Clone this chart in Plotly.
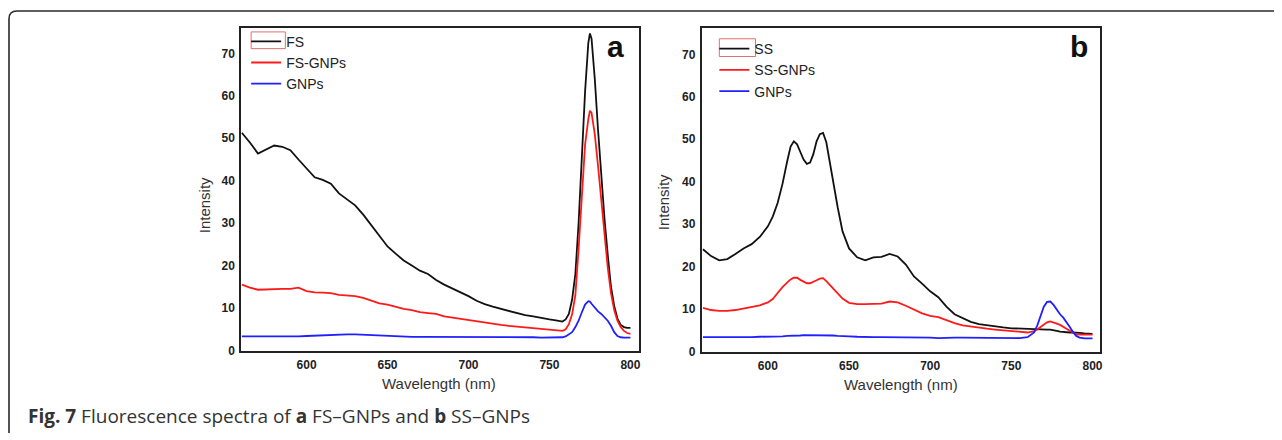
import plotly.graph_objects as go

# ---------------- data ----------------
wl_a = [560, 565, 570, 575, 580, 585, 590, 595, 600, 605, 610, 615, 620, 625, 630, 635,
        640, 645, 650, 655, 660, 665, 670, 675, 680, 685, 690, 695, 700, 705, 710, 715,
        720, 725, 730, 735, 740, 745, 750, 754, 758, 760, 762, 764, 766, 768, 770, 772,
        774, 775, 776, 778, 780, 782, 784, 786, 788, 790, 792, 794, 796, 798, 800]
fs = [51.3, 49.0, 46.4, 47.4, 48.3, 48.0, 47.2, 45.0, 43.0, 40.8, 40.2, 39.3, 37.0, 35.5, 34.2, 32.0,
      29.5, 27.0, 24.5, 22.8, 21.2, 20.0, 18.8, 18.0, 16.6, 15.5, 14.6, 13.7, 12.8, 11.7, 10.9, 10.3,
      9.8, 9.3, 8.7, 8.3, 8.0, 7.6, 7.3, 7.1, 6.8, 7.3, 8.6, 12.0, 18.0, 30.0, 45.0, 61.0,
      72.5, 74.7, 73.5, 64.0, 52.0, 41.0, 31.0, 22.5, 15.0, 10.5, 7.5, 6.0, 5.5, 5.3, 5.3]
fs_gnps = [15.5, 14.8, 14.3, 14.4, 14.5, 14.5, 14.5, 14.8, 14.0, 13.7, 13.6, 13.5, 13.1, 12.9, 12.8, 12.4,
           11.8, 11.1, 10.8, 10.3, 9.8, 9.5, 9.0, 8.8, 8.6, 8.0, 7.7, 7.4, 7.1, 6.8, 6.6, 6.3,
           6.0, 5.8, 5.6, 5.4, 5.2, 5.0, 4.8, 4.6, 4.6, 5.0, 6.2, 8.5, 13.0, 24.0, 37.0, 48.5,
           54.5, 56.5, 56.0, 51.0, 43.5, 35.5, 28.0, 19.5, 13.5, 9.5, 7.0, 5.5, 4.6, 4.1, 3.9]
gnps_a = [3.3, 3.3, 3.2, 3.3, 3.3, 3.3, 3.3, 3.3, 3.4, 3.5, 3.5, 3.6, 3.7, 3.8, 3.8, 3.7,
          3.6, 3.5, 3.4, 3.3, 3.2, 3.2, 3.2, 3.2, 3.2, 3.2, 3.2, 3.2, 3.2, 3.1, 3.2, 3.2,
          3.2, 3.2, 3.1, 3.1, 3.1, 3.0, 3.0, 3.0, 3.1, 3.3, 3.7, 4.3, 5.5, 7.0, 9.0, 10.8,
          11.6, 11.5, 11.0, 10.0, 9.2, 8.6, 7.8, 7.0, 5.8, 4.3, 3.4, 3.1, 3.0, 3.0, 3.0]

wl_b = [560, 565, 570, 575, 580, 585, 590, 595, 600, 603, 606, 609, 612, 614, 616, 618,
        620, 622, 624, 626, 628, 630, 632, 634, 636, 638, 640, 643, 646, 650, 655, 660,
        665, 670, 675, 680, 685, 690, 695, 700, 705, 710, 715, 720, 725, 730, 735, 740,
        745, 750, 755, 760, 764, 766, 768, 770, 772, 774, 776, 778, 780, 782, 784, 786,
        788, 790, 792, 795, 800]
ss = [24.1, 22.5, 21.5, 21.8, 23.0, 24.3, 25.3, 27.0, 29.5, 31.8, 35.0, 39.5, 45.0, 48.3, 49.5, 48.8,
      47.0, 45.2, 44.2, 44.5, 46.5, 49.5, 51.2, 51.5, 49.3, 45.0, 40.0, 34.0, 28.3, 24.3, 22.2, 21.5,
      22.2, 22.3, 23.0, 22.4, 20.5, 17.7, 16.0, 14.2, 12.8, 10.6, 8.8, 7.8, 7.0, 6.5, 6.2, 5.9,
      5.7, 5.5, 5.4, 5.3, 5.2, 5.2, 5.2, 5.2, 5.2, 5.2, 5.1, 4.9, 4.7, 4.6, 4.5, 4.5,
      4.5, 4.5, 4.4, 4.3, 4.2]
ss_gnps = [10.3, 9.8, 9.6, 9.6, 9.8, 10.2, 10.5, 10.9, 11.6, 12.4, 13.8, 15.2, 16.3, 17.0, 17.4, 17.4,
           16.9, 16.4, 16.1, 16.1, 16.4, 16.8, 17.2, 17.3, 16.6, 15.8, 14.9, 13.7, 12.5, 11.5, 11.2, 11.2,
           11.3, 11.3, 11.8, 11.6, 10.8, 9.9, 9.0, 8.4, 8.1, 7.4, 6.7, 6.2, 5.9, 5.6, 5.4, 5.2,
           5.0, 4.8, 4.6, 4.5, 4.8, 5.2, 5.8, 6.4, 6.9, 7.1, 6.9, 6.6, 6.3, 5.9, 5.4, 4.9,
           4.5, 4.1, 4.0, 4.0, 4.0]
gnps_b = [3.4, 3.4, 3.3, 3.4, 3.4, 3.4, 3.4, 3.5, 3.5, 3.5, 3.6, 3.6, 3.7, 3.7, 3.7, 3.8,
          3.8, 3.9, 3.9, 3.9, 3.9, 3.9, 3.9, 3.8, 3.8, 3.8, 3.8, 3.7, 3.7, 3.6, 3.5, 3.4,
          3.4, 3.4, 3.4, 3.4, 3.4, 3.4, 3.4, 3.3, 3.2, 3.3, 3.3, 3.3, 3.3, 3.2, 3.2, 3.2,
          3.2, 3.2, 3.2, 3.4, 4.5, 6.2, 8.5, 10.6, 11.7, 11.8, 11.0, 9.8, 8.8, 8.0, 7.0, 5.8,
          4.6, 3.7, 3.3, 3.1, 3.1]

x_ticks = [600, 650, 700, 750, 800]
y_ticks = [0, 10, 20, 30, 40, 50, 60, 70]
names_a = ["FS", "FS-GNPs", "GNPs"]
names_b = ["SS", "SS-GNPs", "GNPs"]
x_title = "Wavelength (nm)"
y_title = "Intensity"
caption = ("<b>Fig. 7</b> Fluorescence spectra of <b>a</b> FS\u2013GNPs and "
           "<b>b</b> SS\u2013GNPs")

# ---------------- layout helpers ----------------
# the page body has an 8px margin, so the figure starts at (8, 8) in the window
OFF = 8
W, H = 1282 - OFF, 440 - OFF
def X(px):
    return (px - OFF) / W
def Y(py):
    return 1 - (py - OFF) / H

colors = ["#111111", "#ff1a1a", "#2020ff"]

fig = go.Figure()
for series, name, col in zip([fs, fs_gnps, gnps_a], names_a, colors):
    fig.add_trace(go.Scatter(x=wl_a, y=series, name=name, mode="lines",
                             line=dict(color=col, width=1.8),
                             xaxis="x", yaxis="y", legend="legend"))
for series, name, col in zip([ss, ss_gnps, gnps_b], names_b, colors):
    fig.add_trace(go.Scatter(x=wl_b, y=series, name=name, mode="lines",
                             line=dict(color=col, width=1.8),
                             xaxis="x2", yaxis="y2", legend="legend2"))

axis_common = dict(showline=True, linecolor="#222222", linewidth=1.7, mirror=True,
                   showgrid=False, zeroline=False, ticks="", ticklen=0,
                   tickfont=dict(family="Arial", size=12, color="#222222", weight="bold"))

legend_common = dict(xanchor="left", yanchor="top", bgcolor="rgba(0,0,0,0)",
                     borderwidth=0, tracegroupgap=0,
                     font=dict(family="Arial", size=14, color="#222222"))

fig.update_layout(
    width=W, height=H,
    margin=dict(l=0, r=0, t=0, b=0),
    paper_bgcolor="white", plot_bgcolor="white",
    showlegend=True,
    xaxis=dict(domain=[X(241.7), X(640)], range=[559.6, 805], tickvals=x_ticks,
               anchor="y", ticklabelstandoff=2, **axis_common),
    yaxis=dict(domain=[Y(356.7), Y(28.3)], range=[-0.15, 76], tickvals=y_ticks,
               anchor="x", ticklabelstandoff=2, **axis_common),
    xaxis2=dict(domain=[X(703.3), X(1102.7)], range=[559.2, 804.7], tickvals=x_ticks,
                anchor="y2", ticklabelstandoff=2, **axis_common),
    yaxis2=dict(domain=[Y(357.3), Y(28.3)], range=[0, 76.2], tickvals=y_ticks,
                anchor="x2", ticklabelstandoff=2, **axis_common),
    legend=dict(x=X(246.7), y=Y(26), **legend_common),
    legend2=dict(x=X(716), y=Y(33.5), **legend_common),
)

# outer rounded frame (top-left corner visible)
frame = (f"M {X(9)},{Y(440)} L {X(9)},{Y(19)} Q {X(9)},{Y(11)} {X(17)},{Y(11)} "
         f"L {X(1282)},{Y(11)}")
fig.add_shape(type="path", path=frame, xref="paper", yref="paper",
              line=dict(color="#2a2a2a", width=1.6))

# faint red box around first legend symbol (as in the reference)
fig.add_shape(type="rect", xref="paper", yref="paper",
              x0=X(251.7), x1=X(286), y0=Y(49.3), y1=Y(32.3),
              line=dict(color="#e07070", width=1))
fig.add_shape(type="rect", xref="paper", yref="paper",
              x0=X(721), x1=X(757.3), y0=Y(57.3), y1=Y(39.3),
              line=dict(color="#e07070", width=1))

ann_font = dict(family="Arial", size=15, color="#333333")
annotations = [
    dict(text=y_title, x=X(205), y=Y(209), textangle=-90, font=ann_font),
    dict(text=y_title, x=X(665), y=Y(205), textangle=-90, font=ann_font),
    dict(text=x_title, x=X(440.5), y=Y(390), font=ann_font),
    dict(text=x_title, x=X(903), y=Y(390.5), font=ann_font),
    dict(text="<b>a</b>", x=X(616.5), y=Y(47), 
         font=dict(family="Arial", size=30, color="#111111")),
    dict(text="<b>b</b>", x=X(1081.5), y=Y(47),
         font=dict(family="Arial", size=30, color="#111111")),
    dict(text=caption, x=X(26), y=Y(423), xanchor="left",
         font=dict(family="Open Sans", size=19, color="#333333")),
]
for a in annotations:
    a.setdefault("xanchor", "center")
    fig.add_annotation(xref="paper", yref="paper", yanchor="middle",
                       showarrow=False, **a)

fig.write_html("out.html")
